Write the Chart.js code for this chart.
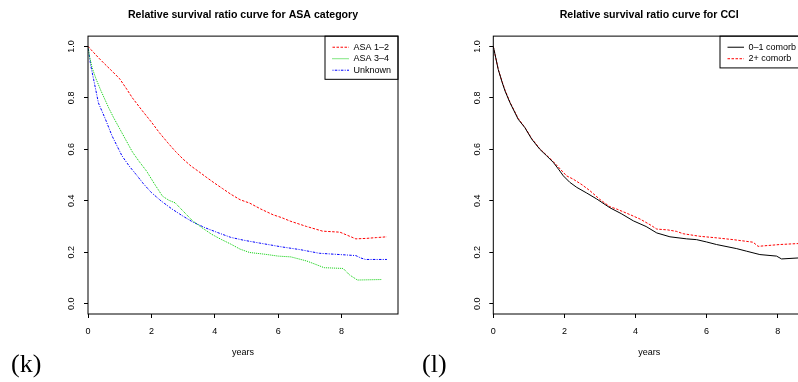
<!DOCTYPE html>
<html>
<head>
<meta charset="utf-8">
<title>Relative survival ratio curves</title>
<script src="https://cdn.jsdelivr.net/npm/chart.js@4.4.1/dist/chart.umd.min.js"></script>
<style>
  html, body { margin: 0; padding: 0; background: #fff; }
  body { width: 798px; height: 382px; position: relative; overflow: hidden; }
  canvas { position: absolute; top: 0; }
  #asaChart { left: 0; }
  #cciChart { left: 400px; }
  .tag { position: absolute; top: 351px; font-family: "Liberation Serif", "DejaVu Serif", serif; font-size: 26px; line-height: 26px; color: #000; }
</style>
</head>
<body>
<canvas id="asaChart" width="400" height="382"></canvas>
<canvas id="cciChart" width="410" height="382"></canvas>
<div class="tag" style="left:11px">(k)</div>
<div class="tag" style="left:422px">(l)</div>
<script>

// axes
const xTicks = [0, 2, 4, 6, 8];
const xTickLabels = ["0", "2", "4", "6", "8"];
const yTicks = [0, 0.2, 0.4, 0.6, 0.8, 1.0];
const yTickLabels = ["0.0", "0.2", "0.4", "0.6", "0.8", "1.0"];

// panel (k): ASA category
const asaLabels = ["ASA 1–2", "ASA 3–4", "Unknown"];

const asa12Years = [0, 0.15, 0.33, 0.5, 0.75, 1.0, 1.2, 1.4, 1.7, 2.0, 2.25, 2.5, 2.75, 3.0, 3.25, 3.5, 3.75, 4.0, 4.25, 4.5, 4.8, 5.1, 5.45, 5.85, 6.1, 6.4, 6.9, 7.4, 7.95, 8.2, 8.45, 8.8, 9.1, 9.43];
const asa12Ratio = [1.0, 0.98, 0.956, 0.935, 0.905, 0.874, 0.838, 0.80, 0.752, 0.706, 0.665, 0.628, 0.593, 0.562, 0.535, 0.513, 0.49, 0.468, 0.447, 0.426, 0.404, 0.391, 0.368, 0.345, 0.335, 0.32, 0.30, 0.282, 0.278, 0.265, 0.252, 0.254, 0.257, 0.26];

const asa34Years = [0, 0.05, 0.13, 0.25, 0.4, 0.65, 0.8, 1.0, 1.2, 1.4, 1.6, 1.85, 2.1, 2.35, 2.55, 2.75, 3.0, 3.3, 3.6, 3.9, 4.2, 4.5, 4.8, 5.1, 5.6, 6.0, 6.4, 6.9, 7.2, 7.45, 8.05, 8.25, 8.5, 9.27];
const asa34Ratio = [1.0, 0.96, 0.917, 0.875, 0.83, 0.762, 0.725, 0.68, 0.635, 0.59, 0.555, 0.515, 0.465, 0.418, 0.402, 0.392, 0.36, 0.322, 0.295, 0.27, 0.25, 0.232, 0.212, 0.199, 0.192, 0.185, 0.182, 0.166, 0.152, 0.14, 0.137, 0.112, 0.092, 0.094];

const unknownYears = [0, 0.08, 0.18, 0.33, 0.55, 0.76, 1.07, 1.3, 1.5, 1.75, 2.0, 2.3, 2.65, 3.0, 3.3, 3.7, 4.1, 4.5, 4.9, 5.4, 6.1, 6.7, 7.3, 7.95, 8.45, 8.6, 8.75, 9.43];
const unknownRatio = [1.0, 0.93, 0.87, 0.78, 0.717, 0.652, 0.575, 0.535, 0.505, 0.466, 0.432, 0.40, 0.368, 0.34, 0.318, 0.295, 0.276, 0.258, 0.247, 0.236, 0.221, 0.21, 0.196, 0.191, 0.187, 0.178, 0.172, 0.172];

// panel (l): CCI
const cciLabels = ["0–1 comorb", "2+ comorb"];

const cci01Years = [0, 0.07, 0.14, 0.25, 0.33, 0.47, 0.6, 0.7, 0.89, 1.08, 1.31, 1.5, 1.69, 1.85, 1.97, 2.15, 2.35, 2.63, 2.91, 3.28, 3.6, 3.94, 4.3, 4.6, 4.97, 5.44, 5.72, 6.0, 6.28, 6.85, 7.13, 7.5, 7.97, 8.11, 8.6];
const cci01Ratio = [1.0, 0.955, 0.91, 0.86, 0.827, 0.781, 0.745, 0.717, 0.684, 0.64, 0.60, 0.575, 0.549, 0.52, 0.497, 0.472, 0.452, 0.43, 0.407, 0.373, 0.35, 0.322, 0.30, 0.275, 0.26, 0.252, 0.249, 0.24, 0.23, 0.214, 0.204, 0.191, 0.185, 0.174, 0.178];

const cci2Years = [0, 0.07, 0.14, 0.25, 0.33, 0.47, 0.7, 0.89, 1.08, 1.31, 1.69, 2.06, 2.25, 2.5, 2.72, 3.0, 3.28, 3.47, 3.85, 4.13, 4.41, 4.6, 4.9, 5.16, 5.34, 5.81, 6.28, 6.75, 7.31, 7.45, 8.06, 8.6];
const cci2Ratio = [1.0, 0.955, 0.91, 0.862, 0.83, 0.783, 0.72, 0.685, 0.642, 0.602, 0.552, 0.497, 0.484, 0.462, 0.439, 0.405, 0.377, 0.368, 0.346, 0.329, 0.307, 0.29, 0.287, 0.281, 0.272, 0.262, 0.256, 0.249, 0.239, 0.223, 0.23, 0.234];


const sans = "'Liberation Sans', Arial, Helvetica, sans-serif";
const baseFont = { family: sans, size: 9 };

function toPoints(xs, ys){
  return xs.map((x, i) => ({ x: x, y: ys[i] }));
}

function curve(label, xs, ys, color, dash){
  return {
    label: label,
    data: toPoints(xs, ys),
    borderColor: color,
    backgroundColor: color,
    borderWidth: 1,
    borderDash: dash,
    pointRadius: 0,
    fill: false,
    tension: 0
  };
}

// legend items drawn as point style lines lose the dash, put it back
function dashedLabels(chart){
  const items = Chart.defaults.plugins.legend.labels.generateLabels(chart);
  items.forEach(item => {
    item.lineDash = chart.data.datasets[item.datasetIndex].borderDash;
  });
  return items;
}

// R style box around the plot region and the legend, legend moved to top right
const rFrame = {
  id: "rFrame",
  afterLayout(chart, args, opts){
    const a = chart.chartArea;
    const lg = chart.legend;
    const pad = lg.options.labels.padding;
    lg.left = a.right - opts.legendWidth + 7.5 - pad;
    lg.top = a.top + 4.1;
  },
  afterDraw(chart, args, opts){
    const ctx = chart.ctx;
    const a = chart.chartArea;
    const n = chart.data.datasets.length;
    ctx.save();
    ctx.strokeStyle = "#000";
    ctx.lineWidth = 1;
    ctx.strokeRect(a.left, a.top, a.right - a.left, a.bottom - a.top);
    ctx.strokeRect(a.right - opts.legendWidth, a.top, opts.legendWidth, n * 11.4 + 9);
    ctx.restore();
  }
};

function makePanel(canvasId, title, datasets, xMax, padLeft, padRight, legendWidth){

  const ctx = document.getElementById(canvasId).getContext("2d");

  return new Chart(ctx, {
    type: "line",
    data: { datasets: datasets },
    options: {
      responsive: false,
      animation: false,
      devicePixelRatio: 1,
      layout: { padding: { left: padLeft, right: padRight, top: 0, bottom: 0 } },
      plugins: {
        title: {
          display: true,
          text: title,
          color: "#000",
          font: { family: sans, size: 10.6, weight: "bold" },
          padding: { top: 8.7, bottom: 14.7 }
        },
        legend: {
          position: "chartArea",
          align: "start",
          labels: {
            usePointStyle: true,
            pointStyle: "line",
            pointStyleWidth: 16.5,
            padding: 2.5,
            color: "#000",
            font: baseFont,
            generateLabels: dashedLabels
          }
        },
        tooltip: { enabled: false },
        rFrame: { legendWidth: legendWidth }
      },
      scales: {
        x: {
          type: "linear",
          min: 0,
          max: xMax,
          afterBuildTicks: s => { s.ticks = xTicks.map(v => ({ value: v })); },
          afterFit: s => { s.height = 68; },
          border: { display: false },
          grid: { drawOnChartArea: false, tickLength: 4, color: "#000" },
          ticks: {
            color: "#000",
            font: baseFont,
            padding: 8,
            maxRotation: 0,
            autoSkip: false,
            callback: (v, i) => xTickLabels[i]
          },
          title: {
            display: true,
            text: "years",
            color: "#000",
            font: baseFont,
            padding: { top: 0, bottom: 23.6 }
          }
        },
        y: {
          type: "linear",
          min: -0.04,
          max: 1.04,
          afterBuildTicks: s => { s.ticks = yTicks.map(v => ({ value: v })); },
          afterFit: s => { s.width = 0; },
          border: { display: false },
          grid: { drawOnChartArea: false, tickLength: 4, color: "#000" },
          ticks: {
            color: "#000",
            font: baseFont,
            minRotation: 90,
            maxRotation: 90,
            crossAlign: "center",
            // the axis box has no width, so the labels are mirrored and pushed back outside
            mirror: true,
            padding: -22.5,
            autoSkip: false,
            callback: (v, i) => yTickLabels[i]
          }
        }
      }
    },
    plugins: [rFrame]
  });

}

makePanel("asaChart", "Relative survival ratio curve for ASA category", [
  curve(asaLabels[0], asa12Years, asa12Ratio, "#FF0000", [2.5, 1.5]),
  curve(asaLabels[1], asa34Years, asa34Ratio, "#00CD00", [1, 1]),
  curve(asaLabels[2], unknownYears, unknownRatio, "#0000FF", [1, 1.3, 2.5, 1.3])
], 9.78, 88, 2, 73);

makePanel("cciChart", "Relative survival ratio curve for CCI", [
  curve(cciLabels[0], cci01Years, cci01Ratio, "#000000", []),
  curve(cciLabels[1], cci2Years, cci2Ratio, "#FF0000", [2.5, 1.5])
], 8.77, 93.3, 5, 85);

</script>
</body>
</html>
